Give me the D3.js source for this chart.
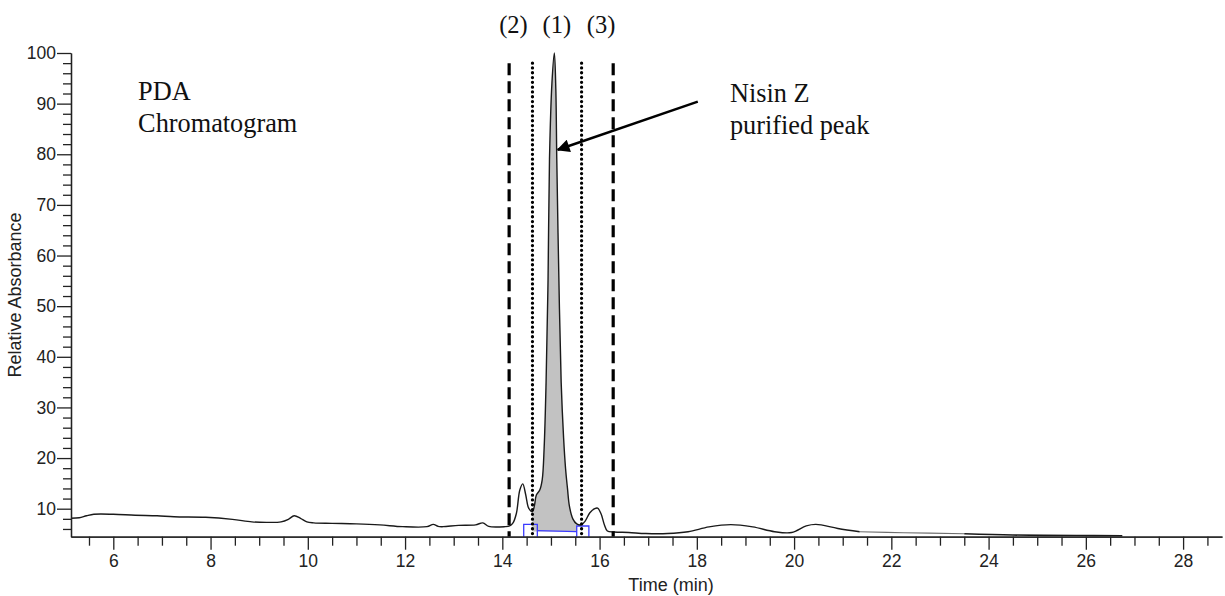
<!DOCTYPE html>
<html>
<head>
<meta charset="utf-8">
<script src="https://cdn.jsdelivr.net/npm/d3@7"></script>
<style>
  html, body { margin: 0; padding: 0; background: #fff; }
  svg { display: block; }
  .tick text { font-family: "Liberation Sans", Arial, sans-serif; }
</style>
</head>
<body>
<div id="chart"></div>
<script>
// ---- Data ----
const times = [5.13, 5.30, 5.45, 5.60, 6.00, 6.45, 6.90, 7.25, 7.90, 8.45, 8.85, 9.15, 9.45, 9.60, 9.72, 9.85, 9.98, 10.12, 10.50, 11.00, 11.48, 11.95, 12.45, 12.58, 12.68, 12.78, 13.10, 13.45, 13.60, 13.72, 14.05, 14.15, 14.22, 14.29, 14.36, 14.42, 14.48, 14.53, 14.58, 14.62, 14.66, 14.70, 14.77, 14.82, 14.86, 14.90, 14.94, 14.97, 15.02, 15.07, 15.10, 15.12, 15.16, 15.21, 15.26, 15.30, 15.34, 15.38, 15.45, 15.53, 15.62, 15.70, 15.80, 15.90, 15.96, 16.03, 16.10, 16.16, 16.30, 16.60, 16.95, 17.40, 17.82, 18.25, 18.70, 19.15, 19.60, 19.95, 20.25, 20.45, 20.90, 21.35, 22.25, 23.50, 24.50, 25.80, 26.75];
const values = [8.1, 8.2, 8.6, 8.9, 8.9, 8.7, 8.6, 8.4, 8.3, 7.9, 7.4, 7.3, 7.4, 7.9, 8.6, 8.1, 7.4, 7.2, 7.1, 7.0, 6.8, 6.45, 6.45, 6.9, 6.5, 6.45, 6.7, 6.8, 7.2, 6.5, 6.45, 6.6, 7.2, 9.1, 13.7, 14.9, 12.8, 10.4, 9.6, 9.4, 10.6, 12.7, 13.7, 15.7, 22, 35, 55, 79, 94, 100, 93, 79, 57, 35, 24, 18, 14, 10.5, 8.0, 7.0, 6.8, 7.5, 9.2, 10.0, 10.1, 9.0, 6.8, 5.6, 5.4, 5.3, 5.1, 5.1, 5.45, 6.4, 6.85, 6.4, 5.45, 5.3, 6.6, 6.9, 6.1, 5.45, 5.25, 5.05, 4.8, 4.7, 4.65];

const xMajorTicks = [6, 8, 10, 12, 14, 16, 18, 20, 22, 24, 26, 28];
const yMajorTicks = [10, 20, 30, 40, 50, 60, 70, 80, 90, 100];

const fillRange = [14.62, 15.55];       // shaded integration region (min)
const fillBaseline = 5.5;               // baseline of shaded area
const blueBaseline = [[14.72, 5.65], [15.53, 5.46]];
const blueBoxes = [[14.44, 14.72, 6.92], [15.53, 15.78, 6.58]]; // start, end, top
const faintRange = [21.35, 23.5];       // part of the trace drawn faint in the source

const dashedTimes = [14.14, 16.28];
const dottedTimes = [14.62, 15.63];
const markerTop = 98;

const peakLabels = ["(2)", "(1)", "(3)"];
const peakLabelTimes = [14.23, 15.12, 16.03];

const xLabel = "Time (min)";
const yLabel = "Relative Absorbance";

// ---- Layout ----
const W = 1225, H = 596;
const x = d3.scaleLinear().domain([5.13, 28.8]).range([71, 1222]);
const y = d3.scaleLinear().domain([4.47, 100]).range([536.7, 53]);

const svg = d3.select("#chart").append("svg")
  .attr("width", W).attr("height", H)
  .style("background", "#fff");

const data = times.map((t, i) => ({ t, v: values[i] }));
const lineGen = d3.line().x(d => x(d.t)).y(d => y(d.v)).curve(d3.curveCatmullRom);

// shaded area
const fillData = data.filter(d => d.t >= fillRange[0] - 1e-9 && d.t <= fillRange[1]);
svg.append("path")
  .datum(fillData)
  .attr("fill", "#c2c2c2")
  .attr("d", d3.area().x(d => x(d.t)).y0(y(fillBaseline)).y1(d => y(d.v)).curve(d3.curveCatmullRom));

// blue integration marks
svg.append("path")
  .datum(blueBaseline)
  .attr("fill", "none").attr("stroke", "#3a3aff").attr("stroke-width", 1.3)
  .attr("d", d3.line().x(d => x(d[0])).y(d => y(d[1])));
blueBoxes.forEach(b => {
  const p = d3.path();
  p.moveTo(x(b[0]), y(4.47));
  p.lineTo(x(b[0]), y(b[2]));
  p.lineTo(x(b[1]), y(b[2]));
  p.lineTo(x(b[1]), y(4.47));
  svg.append("path").attr("d", p.toString())
    .attr("fill", "none").attr("stroke", "#3a3aff").attr("stroke-width", 1.3);
});

// chromatogram line
svg.append("path")
  .datum(data.filter(d => d.t <= faintRange[0]))
  .attr("fill", "none").attr("stroke", "#1a1a1a").attr("stroke-width", 1.4)
  .attr("stroke-linejoin", "round")
  .attr("d", lineGen);
svg.append("path")
  .datum(data.filter(d => d.t >= faintRange[0] && d.t <= faintRange[1]))
  .attr("fill", "none").attr("stroke", "#6e6e6e").attr("stroke-width", 1.2)
  .attr("d", lineGen);
svg.append("path")
  .datum(data.filter(d => d.t >= faintRange[1]))
  .attr("fill", "none").attr("stroke", "#1a1a1a").attr("stroke-width", 1.6)
  .attr("d", lineGen);

// vertical marker lines
dashedTimes.forEach(t => {
  svg.append("line")
    .attr("x1", x(t)).attr("x2", x(t)).attr("y1", y(markerTop)).attr("y2", y(4.47))
    .attr("stroke", "#000").attr("stroke-width", 3.2).attr("stroke-dasharray", "12,6");
});
dottedTimes.forEach(t => {
  svg.append("line")
    .attr("x1", x(t)).attr("x2", x(t)).attr("y1", y(markerTop)).attr("y2", y(4.47))
    .attr("stroke", "#000").attr("stroke-width", 3.3)
    .attr("stroke-linecap", "round").attr("stroke-dasharray", "0,4.8");
});

// axes
const yAxisMinor = d3.axisLeft(y).tickValues(d3.range(6, 100, 2).filter(v => v % 10 !== 0))
  .tickSize(8).tickSizeOuter(0).tickFormat("");
const yAxis = d3.axisLeft(y).tickValues(yMajorTicks).tickSize(14).tickSizeOuter(0).tickPadding(1);
const xAxisMinor = d3.axisBottom(x).tickValues(d3.range(5.5, 28.75, 0.5).filter(v => v % 2 !== 0))
  .tickSize(9).tickSizeOuter(0).tickFormat("");
const xAxis = d3.axisBottom(x).tickValues(xMajorTicks).tickSize(13).tickSizeOuter(0).tickPadding(5);

function styleAxis(g) {
  g.selectAll("path.domain").attr("stroke", "#222").attr("stroke-width", 1.3);
  g.selectAll(".tick line").attr("stroke", "#222").attr("stroke-width", 1.3);
  g.selectAll(".tick text").attr("fill", "#222").style("font-size", "17.5px");
}
svg.append("g").attr("transform", `translate(${x.range()[0]},0)`).call(yAxisMinor).call(styleAxis);
svg.append("g").attr("transform", `translate(${x.range()[0]},0)`).call(yAxis).call(styleAxis);
svg.append("g").attr("transform", `translate(0,${y.range()[0]})`).call(xAxisMinor).call(styleAxis);
svg.append("g").attr("transform", `translate(0,${y.range()[0]})`).call(xAxis).call(styleAxis);

// axis titles
svg.append("text")
  .attr("x", 671).attr("y", 591)
  .attr("text-anchor", "middle")
  .style("font-family", "'Liberation Sans', Arial, sans-serif")
  .style("font-size", "18px").attr("fill", "#222")
  .text(xLabel);
svg.append("text")
  .attr("transform", "translate(21,295) rotate(-90)")
  .attr("text-anchor", "middle")
  .style("font-family", "'Liberation Sans', Arial, sans-serif")
  .style("font-size", "18px").attr("fill", "#222")
  .text(yLabel);

// annotations (serif)
const serif = "'Liberation Serif', 'Times New Roman', serif";
peakLabels.forEach((lab, i) => {
  svg.append("text")
    .attr("x", x(peakLabelTimes[i])).attr("y", 33)
    .attr("text-anchor", "middle")
    .style("font-family", serif).style("font-size", "24.5px").attr("fill", "#111")
    .text(lab);
});

function twoLine(xp, y1, l1, l2) {
  const t = svg.append("text")
    .style("font-family", serif).style("font-size", "26.3px").attr("fill", "#111");
  t.append("tspan").attr("x", xp).attr("y", y1).text(l1);
  t.append("tspan").attr("x", xp).attr("y", y1 + 32).text(l2);
}
twoLine(x(6.51), 100, "PDA", "Chromatogram");
twoLine(x(18.68), 102, "Nisin Z", "purified peak");

// arrow
const defs = svg.append("defs");
defs.append("marker")
  .attr("id", "arrowhead")
  .attr("viewBox", "0 0 10 10").attr("refX", 9).attr("refY", 5)
  .attr("markerWidth", 6).attr("markerHeight", 5.2).attr("markerUnits", "strokeWidth")
  .attr("orient", "auto")
  .append("path").attr("d", "M0,0 L10,5 L0,10 Z").attr("fill", "#000");
const arrowFrom = [18.02, 90.4], arrowTo = [15.14, 80.9];
svg.append("line")
  .attr("x1", x(arrowFrom[0])).attr("y1", y(arrowFrom[1]))
  .attr("x2", x(arrowTo[0])).attr("y2", y(arrowTo[1]))
  .attr("stroke", "#000").attr("stroke-width", 2.5)
  .attr("marker-end", "url(#arrowhead)");
</script>
</body>
</html>
